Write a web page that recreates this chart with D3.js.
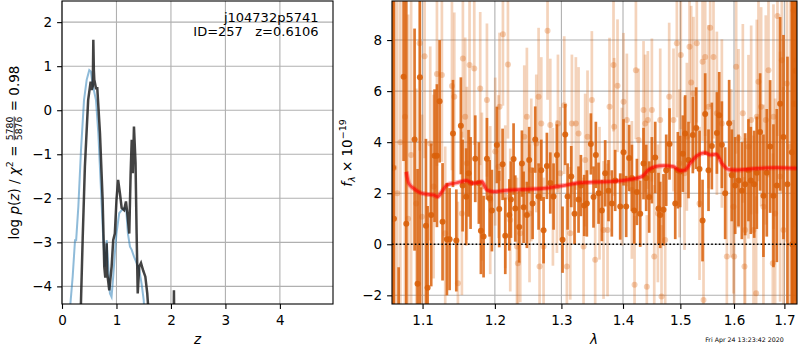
<!DOCTYPE html>
<html lang="en">
<head>
<meta charset="UTF-8">
<title>Redshift fit j104732p5741</title>
<script src="https://cdn.jsdelivr.net/npm/d3@7"></script>
<style>
  body { margin: 0; background: #fff; }
  text { font-family: "DejaVu Sans", sans-serif; }
</style>
</head>
<body>
<svg id="chart" width="800" height="350"></svg>
<script>
// ---- p(z) panel ----
const zTicks = [0, 1, 2, 3, 4];
const logpTicks = [-4, -3, -2, -1, 0, 1, 2];
const zBlue = [0.13,0.147,0.196,0.239,0.26,0.3,0.349,0.404,0.453,0.501,0.53,0.56,0.624,0.667,0.71,0.758,0.79,0.805,0.82,0.85,0.88,0.91,0.94,0.97,1.0,1.05,1.095,1.15,1.18,1.21,1.248,1.28,1.32,1.37,1.418,1.46,1.5,1.53];
const logpBlue = [-5,-4.5,-3.78,-2.95,-2.95,-2.19,-0.9,0.23,0.69,0.91,0.88,0.6,0.23,-0.52,-1.66,-2.95,-3.55,-3.3,-2.95,-3.55,-4.16,-4.24,-3.78,-3.25,-2.8,-2.34,-2.27,-2.22,-2.27,-2.8,-3.1,-3.17,-3.32,-3.47,-3.62,-3.93,-4.31,-5];
const zDark = [0.33,0.343,0.38,0.42,0.48,0.526,0.545,0.565,0.575,0.585,0.593,0.624,0.648,0.697,0.746,0.776,0.795,0.81,0.82,0.83,0.868,0.911,0.94,0.97,1.0,1.03,1.064,1.095,1.14,1.174,1.2,1.235,1.26,1.28,1.30,1.321,1.35,1.37,1.39,1.418,1.45,1.49,1.53,1.565,1.59,1.62,2.04,2.055,2.07];
const logpDark = [-6,-4.6,-2.9,-1.29,0.23,0.65,0.46,0.55,1.6,0.9,0.69,0.5,0.5,-0.52,-2.04,-3.55,-3.8,-3.5,-3.02,-3.7,-4.09,-3.55,-2.95,-2.8,-2.04,-1.58,-1.89,-2.22,-2.27,-2.07,-2.35,-2.8,-1.43,-0.67,-1.43,-0.37,-1.2,-2.8,-4.16,-3.55,-3.47,-3.64,-3.78,-4.16,-4.6,-6,-6,-4.09,-6];

// ---- spectrum panel ----
const waveTicks = [1.1, 1.2, 1.3, 1.4, 1.5, 1.6, 1.7];
const fluxTicks = [-2, 0, 2, 4, 6, 8];
const darkWave = [1.0615,1.0628,1.0688,1.0752,1.0787,1.0895,1.0934,1.0965,1.1045,1.1067,1.1115,1.1160,1.1192,1.1228,1.1268,1.1327,1.1364,1.1410,1.1456,1.1519,1.1543,1.1593,1.1626,1.1654,1.1720,1.1771,1.1800,1.1838,1.1886,1.1924,1.1957,1.2029,1.2063,1.2112,1.2151,1.2210,1.2234,1.2273,1.2298,1.2357,1.2397,1.2422,1.2471,1.2506,1.2557,1.2597,1.2648,1.2689,1.2724,1.2775,1.2827,1.2878,1.2930,1.3018,1.3060,1.3097,1.3155,1.3207,1.3271,1.3308,1.3362,1.3404,1.3469,1.3512,1.3550,1.3594,1.3649,1.3703,1.3758,1.3813,1.3869,1.3953,1.4009,1.4054,1.4104,1.4150,1.4190,1.4236,1.4293,1.4350,1.4396,1.4448,1.4495,1.4553,1.4611,1.4641,1.4699,1.4747,1.4806,1.4908,1.4955,1.4996,1.5045,1.5087,1.5148,1.5227,1.5288,1.5350,1.5406,1.5455,1.5517,1.5579,1.5674,1.5718,1.5768,1.5831,1.5907,1.5958,1.6023,1.6087,1.6152,1.6216,1.6281,1.6327,1.6393,1.6445,1.6511,1.6577,1.6644,1.6711,1.6778,1.6846,1.6913,1.6981,1.7063,1.7152,1.7165,1.7200,1.7234,1.7245];
const darkFlux = [3.0,1.0,-4.5,6.56,0.8,4.1,-1.55,6.54,0.73,-1.7,1.15,3.47,3.47,5.6,0.88,0.2,0.2,4.34,0.15,4.64,2.3,1.86,2.78,2.4,3.35,2.4,0.53,0.3,3.35,1.8,1.32,3.89,1.38,3.13,0.33,1.15,1.75,3.34,1.4,0.68,3.16,1.45,1.15,3.3,1.6,4.1,1.87,2.9,0.55,3.07,2.4,1.87,3.5,0.18,4.3,1.87,2.65,1.2,1.75,2.3,1.52,1.6,3.93,1.85,3.5,2.0,1.32,2.78,2.1,1.6,2.5,1.48,3.6,1.48,3.38,2.6,1.32,2.05,1.2,3.16,2.6,1.85,2.9,3.4,1.4,1.15,1.35,2.9,3.93,1.6,2.9,2.85,3.55,4.34,3.3,4.28,4.55,2.95,0.93,5.1,2.9,3.85,4.36,5.05,3.9,2.0,4.74,2.7,2.3,2.5,2.1,2.35,2.9,2.5,2.35,2.8,4.4,1.9,2.8,3.83,1.9,2.3,5.5,4.2,2.35,3.6,0.0,5.5,6.8,3.0];
const darkErr = [12,12,3.6,3.3,10,4.35,4.5,9,3.4,3.2,2.8,2.6,2.8,2.4,2.3,2.2,2.0,2.1,2.0,1.9,1.8,1.9,1.7,1.8,1.7,1.6,1.7,1.6,1.6,1.5,1.6,1.5,1.5,1.4,1.5,1.4,1.5,1.4,1.3,1.4,1.3,1.4,1.3,1.3,1.4,1.3,1.3,1.2,1.3,1.3,1.2,1.3,1.2,1.3,1.2,1.3,1.2,1.2,1.3,1.2,1.2,1.3,1.2,1.2,1.3,1.2,1.2,1.3,1.2,1.3,1.2,1.3,1.3,1.2,1.3,1.3,1.3,1.3,1.3,1.4,1.3,1.4,1.3,1.4,1.4,1.3,1.4,1.4,1.4,1.4,1.5,1.4,1.5,1.5,1.5,1.5,1.6,1.5,1.6,1.6,1.6,1.7,1.6,1.7,1.7,1.8,1.7,1.8,1.9,1.8,1.9,2.0,2.0,2.1,2.1,2.2,2.3,2.4,2.5,2.6,2.8,3.0,3.4,4.0,5,6,11,10,9,12];
const lightWave = [1.0630,1.0670,1.0710,1.0770,1.0810,1.0850,1.0917,1.0961,1.0992,1.1027,1.1102,1.1147,1.1192,1.1259,1.1304,1.1396,1.1428,1.1478,1.1533,1.1547,1.1579,1.1603,1.1640,1.1706,1.1790,1.1814,1.1886,1.1933,1.2005,1.2053,1.2068,1.2117,1.2151,1.2190,1.2224,1.2323,1.2337,1.2372,1.2432,1.2471,1.2511,1.2537,1.2613,1.2648,1.2663,1.2689,1.2724,1.2785,1.2827,1.2868,1.2930,1.2946,1.2982,1.3044,1.3086,1.3139,1.3165,1.3228,1.3271,1.3351,1.3377,1.3415,1.3485,1.3539,1.3610,1.3676,1.3742,1.3775,1.3841,1.3852,1.3908,1.3981,1.4009,1.4065,1.4150,1.4196,1.4219,1.4264,1.4350,1.4379,1.4407,1.4425,1.4495,1.4536,1.4600,1.4641,1.4664,1.4729,1.4800,1.4877,1.4937,1.4984,1.5008,1.5075,1.5118,1.5166,1.5197,1.5239,1.5300,1.5350,1.5406,1.5424,1.5455,1.5517,1.5548,1.5610,1.5674,1.5768,1.5863,1.5945,1.5990,1.6003,1.6042,1.6087,1.6171,1.6203,1.6216,1.6281,1.6334,1.6380,1.6432,1.6445,1.6478,1.6531,1.6577,1.6624,1.6678,1.6765,1.6778,1.6812,1.6859,1.6913,1.6947,1.6981,1.7050,1.7118,1.7187,1.7255];
const lightFlux = [3.0,2.0,4.0,5.0,1.0,3.5,1.6,7.87,1.08,7.37,3.95,2.26,6.67,6.63,0.43,6.2,5.78,-1.53,1.21,7.28,5.0,3.17,7.02,6.89,6.1,2.26,5.65,1.73,3.63,3.04,5.39,8.23,1.86,7.04,0.95,-0.09,-0.74,0.43,4.21,5.0,1.21,2.91,3.95,5.78,-0.87,4.73,-0.09,8.36,4.67,1.86,2.26,4.73,2.78,5.45,-0.87,0.43,4.73,4.73,4.34,-0.09,3.3,4.21,5.65,-0.61,2.0,0.56,0.56,5.39,7.02,4.6,6.21,2.65,5.58,4.87,2.13,-1.59,6.82,4.08,5.26,4.73,-1.66,4.87,5.26,-0.48,1.21,4.87,-2.05,0.17,5.78,4.87,7.87,3.17,7.41,2.78,4.21,7.74,6.34,5.91,7.87,1.6,7.15,-2.18,7.34,5.39,8.48,7.34,5.13,4.73,-0.48,2.78,1.47,-0.48,6.95,4.15,5.13,-0.87,0.56,3.82,4.87,0.56,-1.92,5.0,6.37,5.39,1.47,4.87,6.82,-0.74,5.0,1.21,8.94,2.65,7.21,0.56,6.3,3.82,9.17,7.21];
const lightErr = [12,12,12,9,8,7,4.5,4.2,4.0,4.0,3.8,3.6,3.6,3.4,3.4,3.3,3.3,3.2,3.2,3.1,3.1,3.0,3.1,3.0,3.0,2.9,3.0,2.9,2.9,2.8,2.9,2.8,2.8,2.9,2.8,2.7,2.8,2.7,2.8,2.7,2.7,2.8,2.7,2.7,2.8,2.6,2.7,2.7,2.6,2.7,2.6,2.7,2.6,2.7,2.6,2.6,2.7,2.6,2.6,2.7,2.6,2.6,2.7,2.6,2.6,2.7,2.6,2.7,2.6,2.7,2.6,2.7,2.7,2.6,2.7,2.7,2.7,2.8,2.7,2.7,2.8,2.7,2.8,2.8,2.7,2.8,2.8,2.8,2.9,2.8,2.9,2.9,2.9,3.0,2.9,3.0,3.0,3.0,3.1,3.0,3.1,3.1,3.1,3.2,3.1,3.2,3.2,3.3,3.3,3.3,3.4,3.4,3.4,3.5,3.5,3.5,3.6,3.6,3.7,3.7,3.8,3.8,3.9,3.9,4.0,4.1,4.2,4.3,4.4,4.5,4.7,4.9,5.2,5.6,6.2,7.0,8.5,10];
const modelWave = [1.0787,1.0818,1.0882,1.0970,1.1058,1.1147,1.1201,1.1259,1.1327,1.1465,1.1603,1.1673,1.1744,1.1814,1.1886,1.1981,1.2126,1.2422,1.2724,1.3033,1.3297,1.3566,1.3841,1.4121,1.4321,1.4436,1.4553,1.4699,1.4877,1.4996,1.5087,1.5178,1.5300,1.5455,1.5548,1.5661,1.5768,1.5894,1.6055,1.6445,1.6846,1.7255];
const modelFlux = [2.84,2.39,2.19,2.02,1.96,1.93,1.86,2.06,2.32,2.41,2.49,2.39,2.41,2.45,2.13,2.06,2.10,2.15,2.19,2.30,2.41,2.44,2.46,2.54,2.65,2.91,3.04,3.08,3.04,2.88,2.91,3.17,3.46,3.59,3.50,3.53,3.17,2.93,2.91,2.97,3.00,2.97];

const svg = d3.select("#chart");
const fs = 13.5;
const yTop = 1, yBot = 304;
const orange = "#d9600a";

function panel(x0, x1, xs, ys, xt, yt, xfmt, name) {
    const g = svg.append("g");
    // grid
    g.selectAll(".gx").data(xt).enter().append("line")
        .attr("x1", d => xs(d)).attr("x2", d => xs(d))
        .attr("y1", yTop).attr("y2", yBot)
        .attr("stroke", "#b0b0b0").attr("stroke-width", 1.1);
    g.selectAll(".gy").data(yt).enter().append("line")
        .attr("x1", x0).attr("x2", x1)
        .attr("y1", d => ys(d)).attr("y2", d => ys(d))
        .attr("stroke", "#b0b0b0").attr("stroke-width", 1.1);
    svg.append("clipPath").attr("id", name)
        .append("rect").attr("x", x0).attr("y", yTop)
        .attr("width", x1 - x0).attr("height", yBot - yTop);
    const plot = svg.append("g").attr("clip-path", `url(#${name})`);

    const ax = svg.append("g").attr("transform", `translate(0,${yBot})`)
        .call(d3.axisBottom(xs).tickValues(xt).tickFormat(xfmt).tickSize(4.9).tickPadding(7));
    const ay = svg.append("g").attr("transform", `translate(${x0},0)`)
        .call(d3.axisLeft(ys).tickValues(yt).tickFormat(d3.format("d")).tickSize(4.9).tickPadding(4.9));
    [ax, ay].forEach(a => {
        a.select(".domain").remove();
        a.selectAll("line").attr("stroke", "#000").attr("stroke-width", 1.1);
        a.selectAll("text").attr("font-size", fs).attr("fill", "#000")
            .attr("font-family", "DejaVu Sans");
    });
    return plot;
}

// ---------- left: p(z) ----------
const zx = d3.scaleLinear().domain([0, 4.975]).range([62, 333]);
const zy = d3.scaleLinear().domain([-4.40, 2.48]).range([yBot, yTop]);
const pz = panel(62, 333, zx, zy, zTicks, logpTicks, d3.format("d"), "clipL");

const pzLine = d3.line().x(d => zx(d[0])).y(d => zy(d[1]));
pz.append("path").datum(d3.zip(zBlue, logpBlue))
    .attr("d", pzLine).attr("fill", "none")
    .attr("stroke", "#1f77b4").attr("stroke-opacity", 0.5).attr("stroke-width", 2);
pz.append("path").datum(d3.zip(zDark, logpDark))
    .attr("d", pzLine).attr("fill", "none")
    .attr("stroke", "#222").attr("stroke-opacity", 0.85).attr("stroke-width", 2.5);

svg.append("rect").attr("x", 62).attr("y", yTop).attr("width", 333 - 62).attr("height", yBot - yTop)
    .attr("fill", "none").attr("stroke", "#000").attr("stroke-width", 1.1);

svg.append("text").attr("x", 318.5).attr("y", 21.5).attr("text-anchor", "end")
    .attr("font-size", 13).text("j104732p5741");
svg.append("text").attr("x", 318.5).attr("y", 36).attr("text-anchor", "end")
    .attr("font-size", 13).style("white-space", "pre").text("ID=257   z=0.6106");

svg.append("text").attr("x", 197.5).attr("y", 344).attr("text-anchor", "middle")
    .attr("font-size", fs).attr("font-style", "italic").text("z");

// y label with stacked fraction
const yl = svg.append("g").attr("font-size", fs);
const t1 = yl.append("text").style("white-space", "pre");
t1.append("tspan").text("log ");
t1.append("tspan").attr("font-style", "italic").text("p");
t1.append("tspan").text("(");
t1.append("tspan").attr("font-style", "italic").text("z");
t1.append("tspan").text(") / ");
t1.append("tspan").attr("font-style", "italic").text("χ");
t1.append("tspan").attr("font-size", 9.5).attr("dy", -5.5).text("2");
t1.append("tspan").attr("dy", 5.5).text(" = ");
const w1 = t1.node().getComputedTextLength();
const num = yl.append("text").attr("font-size", 9.3).attr("y", -5.2).text("5780");
const den = yl.append("text").attr("font-size", 9.3).attr("y", 3.6).text("5876");
const fw = Math.max(num.node().getComputedTextLength(), den.node().getComputedTextLength());
num.attr("x", w1 + 1); den.attr("x", w1 + 1);
yl.append("line").attr("x1", w1 + 1).attr("x2", w1 + 1 + fw)
    .attr("y1", -4.3).attr("y2", -4.3).attr("stroke", "#000").attr("stroke-width", 0.8);
const t2 = yl.append("text").attr("x", w1 + fw + 2).style("white-space", "pre").text(" = 0.98");
const wAll = w1 + fw + 2 + t2.node().getComputedTextLength();
yl.attr("transform", `translate(18.5,${152.5 + wAll / 2}) rotate(-90)`);

// ---------- right: spectrum ----------
const wx = d3.scaleLog().domain([1.0603, 1.726]).range([392, 797]);
const fy = d3.scaleLinear().domain([-2.34, 9.53]).range([yBot, yTop]);
const sp = panel(392, 797, wx, fy, waveTicks, fluxTicks, d3.format(".1f"), "clipR");

function errorbars(wave, flux, err, opacity, dotOpacity) {
    const pts = d3.zip(wave, flux, err);
    sp.append("g").selectAll("line").data(pts).enter().append("line")
        .attr("x1", d => wx(d[0])).attr("x2", d => wx(d[0]))
        .attr("y1", d => fy(d[1] - d[2])).attr("y2", d => fy(d[1] + d[2]))
        .attr("stroke", orange).attr("stroke-opacity", opacity).attr("stroke-width", 2.7);
    sp.append("g").selectAll("circle").data(pts).enter().append("circle")
        .attr("cx", d => wx(d[0])).attr("cy", d => fy(d[1])).attr("r", 3)
        .attr("fill", orange).attr("fill-opacity", dotOpacity);
}
errorbars(lightWave, lightFlux, lightErr, 0.28, 0.3);
errorbars(darkWave, darkFlux, darkErr, 0.85, 0.9);

const mLine = d3.line().x(d => wx(d[0])).y(d => fy(d[1])).curve(d3.curveMonotoneX);
const mData = d3.zip(modelWave, modelFlux);
sp.append("path").datum(mData).attr("d", mLine).attr("fill", "none")
    .attr("stroke", "red").attr("stroke-opacity", 0.3).attr("stroke-width", 5);
sp.append("path").datum(mData).attr("d", mLine).attr("fill", "none")
    .attr("stroke", "red").attr("stroke-opacity", 0.6).attr("stroke-width", 2.8);

sp.append("line").attr("x1", 392).attr("x2", 797).attr("y1", fy(0)).attr("y2", fy(0))
    .attr("stroke", "#000").attr("stroke-width", 1.6).attr("stroke-dasharray", "1.6,2.2");

svg.append("rect").attr("x", 392).attr("y", yTop).attr("width", 797 - 392).attr("height", yBot - yTop)
    .attr("fill", "none").attr("stroke", "#000").attr("stroke-width", 1.1);

svg.append("text").attr("x", 594).attr("y", 344).attr("text-anchor", "middle")
    .attr("font-size", fs).attr("font-style", "italic").text("λ");

const fl = svg.append("text").attr("text-anchor", "middle").attr("font-size", fs)
    .attr("transform", "translate(352,153) rotate(-90)");
fl.append("tspan").attr("font-style", "italic").text("f");
fl.append("tspan").attr("font-size", 9.5).attr("font-style", "italic").attr("dy", 3).text("λ");
fl.append("tspan").attr("dy", -3).text(" × 10");
fl.append("tspan").attr("font-size", 9.5).attr("dy", -6).text("−19");

svg.append("text").attr("x", 744.5).attr("y", 342).attr("text-anchor", "middle")
    .attr("font-size", 6.3).text("Fri Apr 24 13:23:42 2020");
</script>
</body>
</html>
